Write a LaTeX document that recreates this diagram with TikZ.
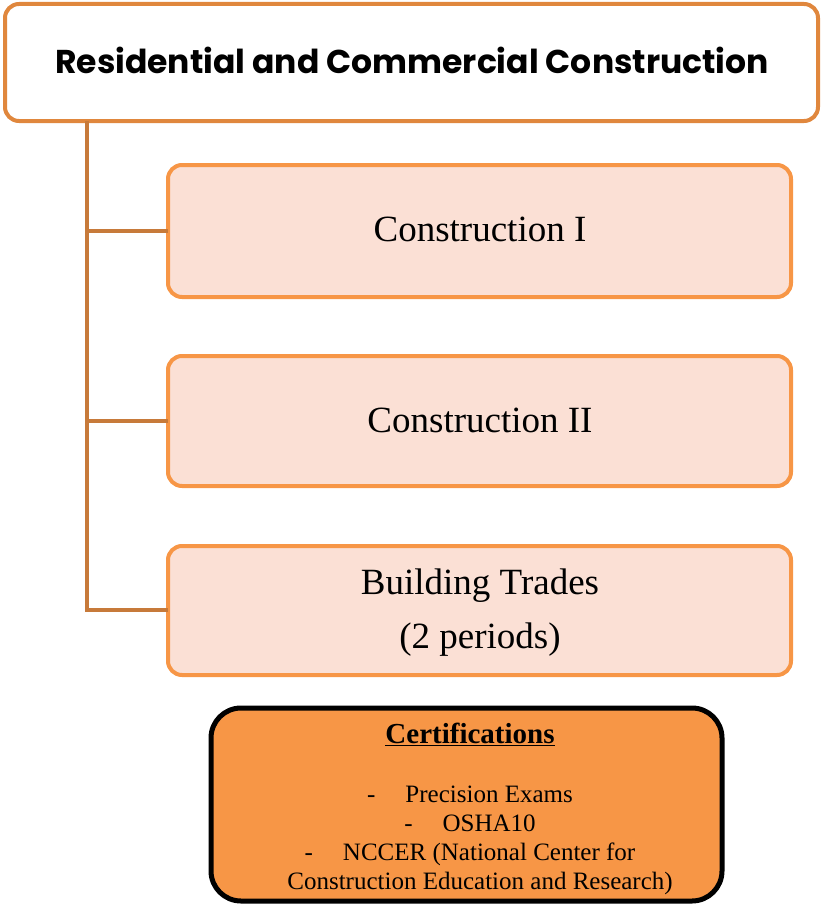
\documentclass[tikz,border=0pt]{standalone}
\usepackage{fontspec}
\setmainfont{Liberation Serif}
\newfontfamily\titlefont{Poppins}[UprightFont=* Bold]
\definecolor{topline}{HTML}{E0873D}
\definecolor{trunk}{HTML}{C77A3A}
\definecolor{kidline}{HTML}{F79646}
\definecolor{kidfill}{HTML}{FBE0D5}
\definecolor{certfill}{HTML}{F79646}
\begin{document}
\begin{tikzpicture}[x=1pt,y=-1pt,
  topbox/.style={draw=topline,line width=4pt,fill=white,rounded corners=14pt},
  kidbox/.style={draw=kidline,line width=4pt,fill=kidfill,rounded corners=14pt},
  certbox/.style={draw=black,line width=5pt,fill=certfill,rounded corners=30pt},
  conn/.style={draw=trunk,line width=4pt},
  kidtext/.style={font=\fontsize{37}{54}\selectfont,align=center}]
\useasboundingbox (0,0) rectangle (821,907);
% top
\draw[topbox] (5,4) rectangle (818,121);
\node[font=\titlefont\fontsize{33}{38}\selectfont] (title) at (412,60) {Residential and Commercial Construction};
\coordinate (trunktop) at (87,121);
\coordinate (b1) at (87,231);
\coordinate (b2) at (87,421);
\coordinate (b3) at (87,610);
% children
\draw[kidbox] (168,165) rectangle (791,297);
\draw[kidbox] (168,356) rectangle (791,486);
\draw[kidbox] (168,546) rectangle (791,675);
\node[kidtext] (k1) at (480,229) {Construction I};
\node[kidtext] (k2) at (480,420) {Construction II};
\node[kidtext] (k3) at (480,613) {Building Trades\\(2 periods)};
\coordinate (e1) at (168,231);
\coordinate (e2) at (168,421);
\coordinate (e3) at (168,610);
\draw[conn] (trunktop) -- (b3) -- (e3);
\draw[conn] (b1) -- (e1);
\draw[conn] (b2) -- (e2);
% certifications
\draw[certbox] (211,708) rectangle (722,901);
\node[font=\fontsize{25}{29}\selectfont,align=center] (cert) at (470,809)
 {{\fontsize{29}{29}\selectfont\textbf{\underline{Certifications}}}\\[30pt]
  -\hspace{30pt}Precision Exams\\
  -\hspace{30pt}OSHA10\\
  -\hspace{30pt}NCCER (National Center for\\
  \hspace{20pt}Construction Education and Research)};
\end{tikzpicture}
\end{document}
